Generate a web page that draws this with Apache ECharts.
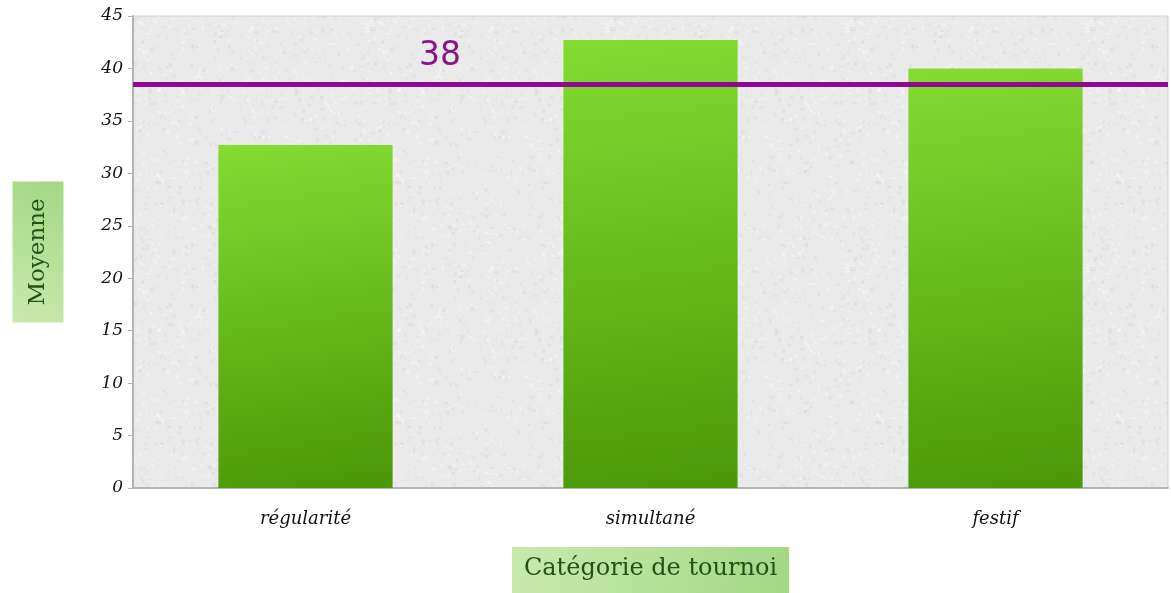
<!doctype html>
<html>
    <head>
        <meta charset="utf-8">
        <title>Moyenne par catégorie de tournoi</title>
        <style>
            html, body { margin: 0; padding: 0; background: #fff; }
            #main { width: 1171px; height: 593px; }
        </style>
    </head>
    <body>
        <div id="main"></div>
        <script src="https://cdn.jsdelivr.net/npm/echarts@6/dist/echarts.min.js"></script>
        <script>
            var categories = ['régularité', 'simultané', 'festif'];
            var moyennes = [32.7, 42.7, 40.0];
            var yTicks = [0, 5, 10, 15, 20, 25, 30, 35, 40, 45];

            // soft light grey "marble" texture for the plot background
            function makeTexture() {
                var c = document.createElement('canvas');
                c.width = 240;
                c.height = 240;
                var ctx = c.getContext('2d');
                ctx.fillStyle = '#eaeaea';
                ctx.fillRect(0, 0, 240, 240);
                var seed = 11;
                function rnd() {
                    seed = (seed * 16807) % 2147483647;
                    return (seed - 1) / 2147483646;
                }
                for (var i = 0; i < 900; i++) {
                    var x = rnd() * 240, y = rnd() * 240;
                    ctx.fillStyle = rnd() > 0.5 ? 'rgba(255,255,255,0.35)' : 'rgba(210,210,210,0.35)';
                    ctx.fillRect(x, y, 1 + rnd() * 3, 1 + rnd() * 3);
                }
                for (var j = 0; j < 120; j++) {
                    var sx = rnd() * 240, sy = rnd() * 240;
                    ctx.strokeStyle = 'rgba(250,250,250,0.45)';
                    ctx.lineWidth = 0.8 + rnd();
                    ctx.beginPath();
                    ctx.moveTo(sx, sy);
                    ctx.quadraticCurveTo(sx + rnd() * 14 - 7, sy + rnd() * 14 - 7,
                        sx + rnd() * 20 - 10, sy + rnd() * 20 - 10);
                    ctx.stroke();
                }
                return c;
            }

            var chart = echarts.init(document.getElementById('main'));

            var nameBox = {
                type: 'linear', x: 0, y: 0, x2: 1, y2: 1,
                colorStops: [
                    { offset: 0, color: '#c8eaad' },
                    { offset: 1, color: '#a3d886' }
                ]
            };

            chart.setOption({
                animation: false,
                grid: {
                    left: 133,
                    right: 3,
                    top: 16,
                    bottom: 105,
                    outerBoundsMode: 'none',
                    containLabel: false,
                    show: true,
                    backgroundColor: { image: makeTexture(), repeat: 'repeat' },
                    borderColor: '#cfcfcf',
                    borderWidth: 1
                },
                xAxis: {
                    type: 'category',
                    data: categories,
                    name: 'Catégorie de tournoi',
                    nameLocation: 'middle',
                    nameGap: 59,
                    nameTextStyle: {
                        fontFamily: 'DejaVu Serif',
                        fontSize: 24,
                        color: '#1f5418',
                        backgroundColor: nameBox,
                        padding: [10, 12, 12, 12],
                        verticalAlign: 'top'
                    },
                    axisLine: { lineStyle: { color: '#b4b4b4', width: 2 } },
                    axisTick: { show: false },
                    axisLabel: {
                        margin: 22,
                        fontFamily: 'DejaVu Serif',
                        fontStyle: 'italic',
                        fontSize: 18,
                        color: '#111'
                    }
                },
                yAxis: {
                    type: 'value',
                    min: yTicks[0],
                    max: yTicks[yTicks.length - 1],
                    interval: yTicks[1] - yTicks[0],
                    name: 'Moyenne',
                    nameLocation: 'middle',
                    nameRotate: 90,
                    nameGap: 95,
                    nameTextStyle: {
                        fontFamily: 'DejaVu Serif',
                        fontSize: 23,
                        color: '#1f5418',
                        backgroundColor: nameBox,
                        padding: [14, 17, 14, 17],
                        verticalAlign: 'middle'
                    },
                    axisLine: { show: true, lineStyle: { color: '#b4b4b4', width: 2 } },
                    axisTick: { show: true, length: 5, lineStyle: { color: '#b4b4b4' } },
                    splitLine: { show: false },
                    axisLabel: {
                        margin: 10,
                        fontFamily: 'DejaVu Serif',
                        fontStyle: 'italic',
                        fontSize: 17,
                        color: '#111'
                    }
                },
                series: [{
                    type: 'bar',
                    data: moyennes,
                    barWidth: '50.5%',
                    itemStyle: {
                        color: {
                            type: 'linear', x: 0, y: 0, x2: 0.3, y2: 1,
                            colorStops: [
                                { offset: 0, color: '#84dc32' },
                                { offset: 1, color: '#4c9a08' }
                            ]
                        }
                    },
                    markLine: {
                        silent: true,
                        symbol: 'none',
                        data: [{ type: 'average' }],
                        lineStyle: { color: '#8e0a8e', width: 5, type: 'solid' },
                        label: {
                            position: 'insideStartTop',
                            distance: [286, 12],
                            formatter: function (p) { return Math.round(p.value); },
                            fontFamily: 'DejaVu Sans',
                            fontSize: 33,
                            color: '#861686'
                        }
                    }
                }]
            });
        </script>
    </body>
</html>
